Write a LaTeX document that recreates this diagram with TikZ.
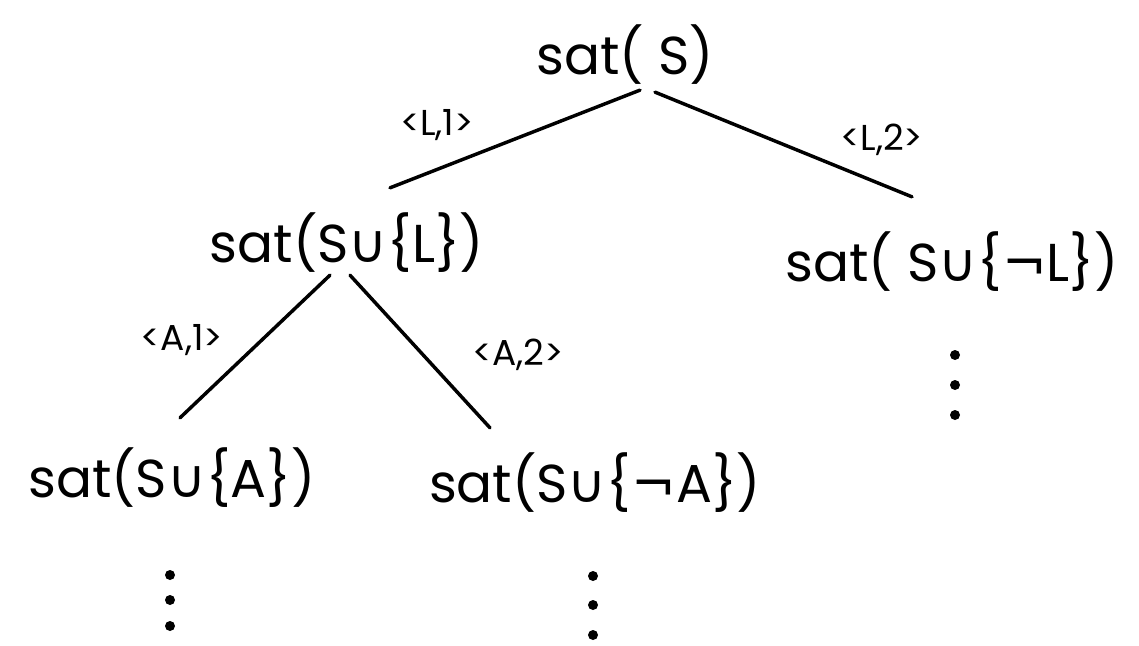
\documentclass[tikz,border=0pt]{standalone}
\usepackage{fontspec}
\setmainfont{Poppins}
\newfontfamily\symf{DejaVu Sans}
\usetikzlibrary{calc}
\newcommand{\myun}{{\symf ∪}}
\newcommand{\myneg}{{\symf ¬}}
\begin{document}
\begin{tikzpicture}[x=0.75pt,y=-0.75pt,
  big/.style={inner sep=0pt,font=\fontsize{40}{44}\selectfont},
  lab/.style={inner sep=0pt,font=\fontsize{27}{30}\selectfont},
  edge/.style={line width=2.6pt,line cap=round},
  dot/.style={circle,fill=black,inner sep=0pt,minimum size=7.5pt}]
\useasboundingbox (0,0) rectangle (1139,646);
\node[big] (root) at (625,55) {sat( S)};
\node[big] (l) at (347,243) {sat(S\myun\{L\})};
\node[big] (r) at (952,262) {sat( S\myun\{\myneg L\})};
\node[big] (ll) at (172,478) {sat(S\myun\{A\})};
\node[big] (lr) at (595,483) {sat(S\myun\{\myneg A\})};
\node[lab] (e1) at (437,125) {<L,1>};
\node[lab] (e2) at (882,140) {<L,2>};
\node[lab] (e3) at (182,340) {<A,1>};
\node[lab] (e4) at (518,355) {<A,2>};
\draw[edge] ($(root.south)+(15,5)$) -- ($(l.north)+(43,-25)$);
\draw[edge] ($(root.south)+(30,7)$) -- ($(r.north)+(-40,-35)$);
\draw[edge] ($(l.south)+(-17,2)$) -- ($(ll.north)+(8,-30)$);
\draw[edge] ($(l.south)+(3,2)$) -- ($(lr.north)+(-105,-25)$);
\node[dot] (r1) at (955,355) {};
\node[dot] (r2) at (955,385) {};
\node[dot] (r3) at (955,415) {};
\node[dot] (a1) at (170,575) {};
\node[dot] (a2) at (170,600) {};
\node[dot] (a3) at (170,626) {};
\node[dot] (b1) at (593,576) {};
\node[dot] (b2) at (593,605) {};
\node[dot] (b3) at (593,635) {};
\end{tikzpicture}
\end{document}
